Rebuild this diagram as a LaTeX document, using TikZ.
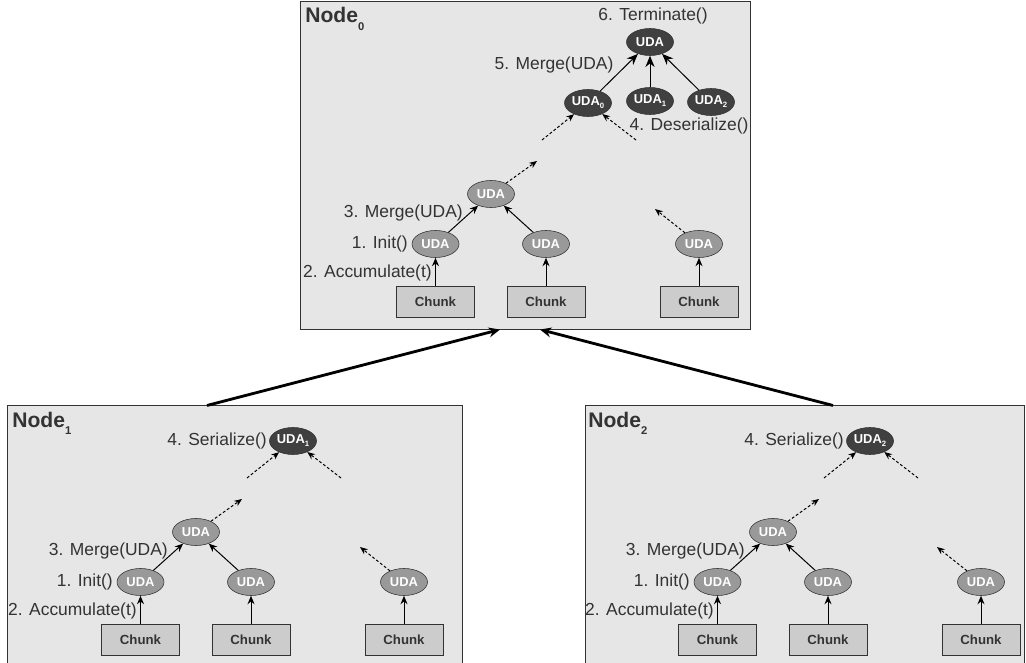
\documentclass[tikz,border=0pt]{standalone}
\usepackage{fontspec}
\setmainfont{Liberation Sans}
\usetikzlibrary{shapes.geometric, arrows.meta, positioning, calc}

\newcommand{\udasub}[1]{UDA\raisebox{-2.2pt}{\fontsize{5.5}{5.5}\selectfont #1}}

\begin{document}
\begin{tikzpicture}[x=0.025cm, y=-0.025cm, >=Stealth]
    % Define local colors
    \definecolor{boxbg}{RGB}{230,230,230} \definecolor{udam}{RGB}{153,153,153} \definecolor{udad}{RGB}{64,64,64}
    \definecolor{chk}{RGB}{204,204,204} \definecolor{txt}{RGB}{51,51,51}
    \tikzset{
        nodebox/.style={draw=txt, fill=boxbg, line width=0.7pt, inner sep=0},
        uda/.style={ellipse, draw=txt, fill=udam, text=white, font=\fontsize{9.2}{9.5}\selectfont\bfseries, minimum width=1.175cm, minimum height=0.675cm, inner sep=0},
        udatop/.style={uda, fill=udad},
        chunk/.style={draw=txt, fill=chk, text=txt, font=\fontsize{9.4}{10}\selectfont\bfseries, minimum width=1.95cm, minimum height=0.775cm, inner sep=0},
        lbl/.style={text=txt, font=\fontsize{12.4}{14}\selectfont, inner sep=0},
        ttl/.style={text=txt, font=\fontsize{15}{17}\selectfont\bfseries, inner sep=0, anchor=base west},
        sol/.style={->, >={Stealth[length=6pt, width=5pt]}, line width=0.7pt},
        solbig/.style={->, >={Stealth[length=8pt, width=6.5pt]}, line width=0.7pt},
        dsh/.style={->, >={Stealth[length=5.5pt, width=4.5pt]}, line width=0.7pt, dash pattern=on 2pt off 1.5pt},
        big/.style={->, >={Stealth[length=8pt, width=7pt]}, line width=2pt}
    }
    \useasboundingbox (0,0) rectangle (1026,663);

    % Node boxes
    \node[nodebox, minimum width=11.225cm, minimum height=8.175cm] (n0) at (525.5,165.5) {};
    \node[nodebox, minimum width=11.35cm, minimum height=6.6cm] (n1) at (235,538) {};
    \node[nodebox, minimum width=10.95cm, minimum height=6.6cm] (n2) at (805,538) {};
    \node[ttl] (t0) at (305,23) {Node\raisebox{-5pt}{\fontsize{8}{8}\selectfont 0}};
    \node[ttl] (t1) at (12,427) {Node\raisebox{-5pt}{\fontsize{8}{8}\selectfont 1}};
    \node[ttl] (t2) at (588,427) {Node\raisebox{-5pt}{\fontsize{8}{8}\selectfont 2}};

    % Local aggregation, same layout in every node
    \foreach \k/\dx/\dy in {0/295/-338, 1/0/0, 2/577/0} {
        \begin{scope}[shift={(\dx,\dy)}]
            \node[udatop] (u\k) at (293,441) {\udasub{\k}};
            \node[uda] (m\k) at (196,532) {UDA};
            \foreach \j/\xc in {a/140.5, b/251, c/404} {
                \node[uda] (\j\k) at (\xc,582) {UDA};
                \node[chunk] (ch\k\j) at (\xc,639.5) {Chunk};
                \draw[sol] (ch\k\j) -- (\j\k);
            }
            \draw[sol] (a\k) -- (m\k);
            \draw[sol] (b\k) -- (m\k);

            % Dotted partial paths
            \coordinate (p\k) at (242,499);
            \coordinate (q\k) at (360,547);
            \coordinate (r\k) at (247,478);
            \coordinate (s\k) at (341,478);
            \draw[dsh] (m\k) -- (p\k);
            \draw[dsh] (c\k) -- (q\k);
            \draw[dsh] (r\k) -- (u\k);
            \draw[dsh] (s\k) -- (u\k);

            \node[lbl, anchor=east] (lm\k) at (168,551) {3. Merge(UDA)};
            \node[lbl, anchor=east] (li\k) at (113,582) {1. Init()};
            \node[lbl, anchor=east] (la\k) at (137,611) {2. Accumulate(t)};
        \end{scope}
    }
    \foreach \k in {1,2} {
        \node[lbl, left=1.5pt of u\k] (ser\k) {4. Serialize()};
    }

    % Final merge on Node 0
    \node[udatop] (top) at (650,42) {UDA};
    \node[udatop] (v1) at (650,101) {\udasub{1}};
    \node[udatop] (v2) at (711,102) {\udasub{2}};
    \draw[solbig] (u0) -- (top);
    \draw[solbig] (v1) -- (top);
    \draw[solbig] (v2) -- (top);
    \node[lbl] (term) at (653,16) {6. Terminate()};
    \node[lbl] (mrg) at (554,65) {5. Merge(UDA)};
    \node[lbl] (des) at (689,126) {4. Deserialize()};

    % Shipping to Node 0
    \draw[big] ($(n1.north)+(-28,0)$) -- ($(n0.south)+(-25.5,0)$);
    \draw[big] ($(n2.north)+(28,0)$) -- ($(n0.south)+(14.5,0)$);
\end{tikzpicture}
\end{document}
